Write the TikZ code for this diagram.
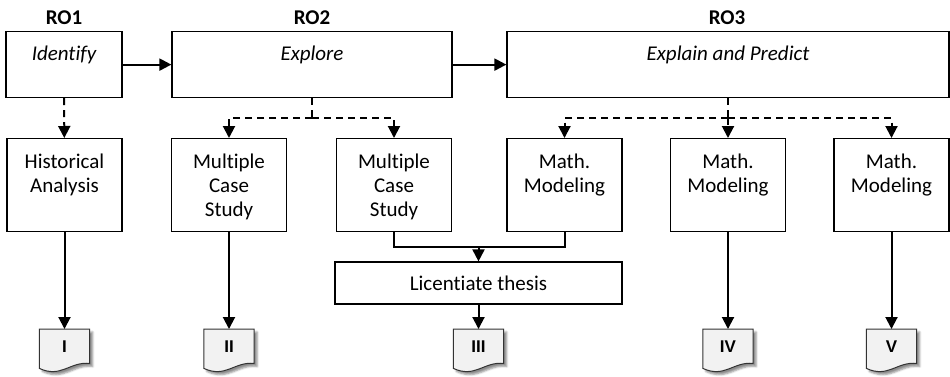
\documentclass[tikz,border=0pt]{standalone}
\usepackage{fontspec}
\setmainfont{Carlito}[Ligatures=NoCommon]
\newfontfamily\numfont{Liberation Sans}
\usetikzlibrary{arrows.meta,backgrounds,shadows.blur}

\begin{document}
\begin{tikzpicture}[x=1pt, y=-1pt,
  head/.style={font=\fontsize{21}{24}\selectfont\bfseries},
  topbox/.style={draw, line width=1.2pt, anchor=north, inner sep=0pt,
    text height=29pt, text depth=37pt, font=\fontsize{21}{24}\selectfont\itshape},
  taskbox/.style={draw, line width=1.2pt, anchor=north, inner sep=0pt,
    text width=115pt, align=center, text height=30pt, text depth=63pt,
    font=\fontsize{21}{24}\selectfont},
  thesisbox/.style={draw, line width=1.2pt, minimum width=287pt, minimum height=42pt,
    inner sep=0pt, font=\fontsize{21}{24}\selectfont},
  paper/.style={anchor=north, minimum width=50pt, minimum height=34pt, inner sep=0pt,
    font=\numfont\bfseries\fontsize{17}{20}\selectfont},
  papershape/.style={fill=black!5, draw=black!80, line width=1pt,
    blur shadow={shadow xshift=3pt, shadow yshift=-3pt, shadow opacity=45}},
  link/.style={line width=2pt},
  flow/.style={link, -{Triangle[length=12pt,width=12pt]}},
  split/.style={link, dash pattern=on 7pt off 5pt},
  splitflow/.style={split, -{Triangle[length=12pt,width=12pt]}}]

% Drawing window
\useasboundingbox (0,0) rectangle (950,376);

% Research objectives
\node[head] (ro1) at (64,17.5) {RO1};
\node[head] (ro2) at (312,17.5) {RO2};
\node[head] (ro3) at (727,17.5) {RO3};

\node[topbox, minimum width=116pt] (identify) at (64,31) {Identify};
\node[topbox, minimum width=280pt] (explore) at (312,31) {Explore};
\node[topbox, minimum width=442pt] (explain) at (728,31) {Explain and Predict};

\draw[flow] (identify) -- (explore);
\draw[flow] (explore) -- (explain);

% Studies
\foreach \nm/\x/\txt in {hist/64.5/{Historical\\Analysis},
    mcsA/229/{Multiple\\Case\\Study}, mcsB/394/{Multiple\\Case\\Study},
    mmA/564.5/{Math.\\Modeling}, mmB/728/{Math.\\Modeling}, mmC/891.5/{Math.\\Modeling}} {
  \node[taskbox] (\nm) at (\x,138) {\txt};
}

\node[thesisbox] (lic) at (478.5,283) {Licentiate thesis};

% Papers
\foreach \nm/\x/\num in {docI/64.5/I, docII/229/II, docIII/478.5/III, docIV/728/IV, docV/891.5/V} {
  \node[paper] (\nm) at (\x,329) {\num};
}

\begin{scope}[on background layer]
\foreach \d in {docI,docII,docIII,docIV,docV} {
  \filldraw[papershape] (\d.north west) -- (\d.north east) -- (\d.south east)
    .. controls +(-20,-2) and +(22,10) .. ([yshift=-5pt]\d.south west) -- cycle;
}
\end{scope}

% Dashed splits
\draw[splitflow] (identify) -- (hist);

\coordinate (forkA) at ([yshift=-20pt]explore.south);
\draw[split] (explore.south) -- (forkA);
\draw[splitflow] (forkA) -| (mcsA.north);
\draw[splitflow] (forkA) -| (mcsB.north);

\coordinate (forkB) at ([yshift=-20pt]explain.south);
\draw[split] (explain.south) -- (forkB);
\draw[splitflow] (forkB) -| (mmA.north);
\draw[splitflow] (forkB) -- (mmB.north);
\draw[splitflow] (forkB) -| (mmC.north);

% Outputs
\coordinate (merge) at (478.5,247);
\draw[link] (mcsB.south) |- (merge) -| (mmA.south);
\draw[flow] (merge) -- (lic);

\draw[flow] (hist) -- (docI);
\draw[flow] (mcsA) -- (docII);
\draw[flow] (lic) -- (docIII);
\draw[flow] (mmB) -- (docIV);
\draw[flow] (mmC) -- (docV);

\end{tikzpicture}
\end{document}
